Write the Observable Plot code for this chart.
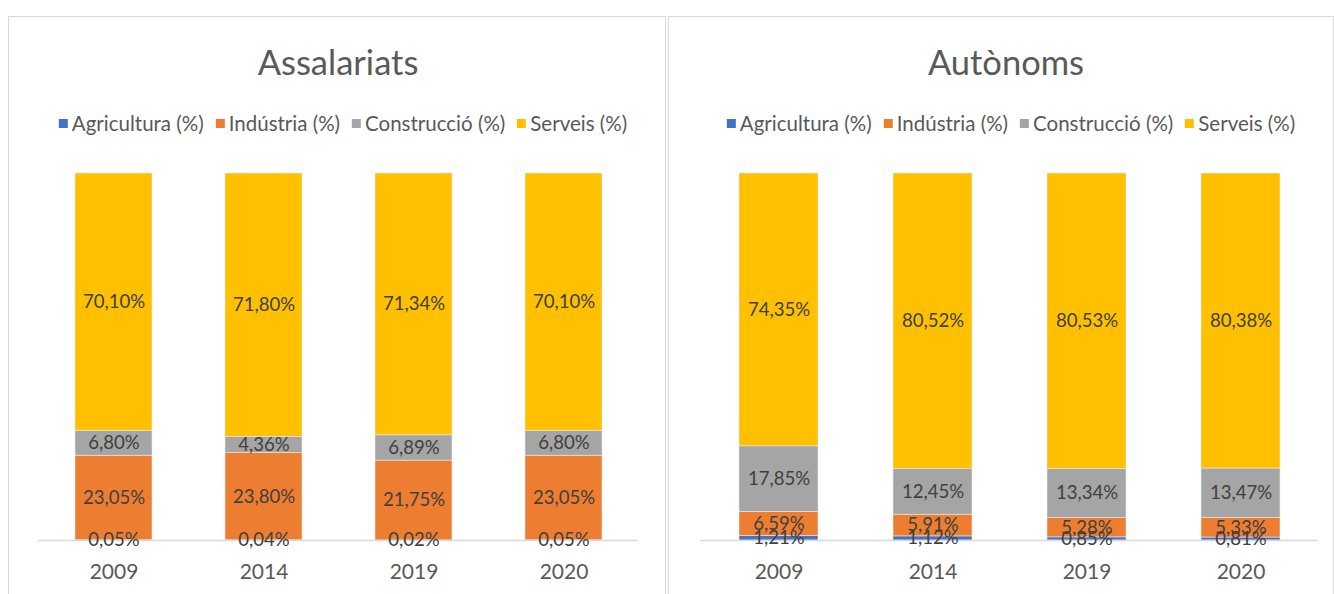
<!DOCTYPE html>
<html><head><meta charset="utf-8">
<script src="https://cdn.jsdelivr.net/npm/d3@7"></script>
<script src="https://cdn.jsdelivr.net/npm/@observablehq/plot@0.6"></script>
<style>
body{margin:0;background:#fff;font-family:Lato,"Open Sans",sans-serif;}
#wrap{position:relative;width:1334px;height:594px;overflow:hidden;background:#fff}
.panel{position:absolute;top:16px;height:600px;border:1px solid #d9d9d9;box-sizing:border-box}
.title{position:absolute;top:42px;height:40px;line-height:40px;font-size:34.5px;color:#595959;text-align:center;white-space:nowrap;transform:translateX(-50%)}
.legend{position:absolute;top:112px;height:22px;line-height:22px;font-size:20.5px;color:#595959;white-space:nowrap;transform:translateX(-50%);display:flex;gap:12px;align-items:center}
.legend .it{display:flex;align-items:center}
.legend span.sw{display:inline-block;width:9px;height:9px;margin-right:4px}
</style></head>
<body><div id="wrap"></div>
<script>
const years = ["2009", "2014", "2019", "2020"];
const sectors = ["Agricultura (%)", "Indústria (%)", "Construcció (%)", "Serveis (%)"];
const sectorColors = ["#4472C4", "#ED7D31", "#A5A5A5", "#FFC000"];

// Assalariats
const assAgricultura = [0.05, 0.04, 0.02, 0.05];
const assIndustria   = [23.05, 23.80, 21.75, 23.05];
const assConstruccio = [6.80, 4.36, 6.89, 6.80];
const assServeis     = [70.10, 71.80, 71.34, 70.10];

// Autònoms
const autAgricultura = [1.21, 1.12, 0.85, 0.81];
const autIndustria   = [6.59, 5.91, 5.28, 5.33];
const autConstruccio = [17.85, 12.45, 13.34, 13.47];
const autServeis     = [74.35, 80.52, 80.53, 80.38];

function rowsOf(series) {
  const rows = [];
  years.forEach((y, i) => series.forEach((s, k) => rows.push({year: y, sector: sectors[k], value: s[i]})));
  return rows;
}
const fmt = v => v.toFixed(2).replace(".", ",") + "%";

const wrap = document.getElementById("wrap");

function panel({title, series, left, width, titleX, legendX, mL, mR, pad}) {
  const p = document.createElement("div");
  p.className = "panel";
  p.style.left = left + "px";
  p.style.width = width + "px";
  wrap.appendChild(p);

  const t = document.createElement("div");
  t.className = "title";
  t.style.left = titleX + "px";
  t.textContent = title;
  wrap.appendChild(t);

  const lg = document.createElement("div");
  lg.className = "legend";
  lg.style.left = legendX + "px";
  sectors.forEach((s, k) => {
    const it = document.createElement("div");
    it.className = "it";
    it.innerHTML = `<span class="sw" style="background:${sectorColors[k]}"></span>${s}`;
    lg.appendChild(it);
  });
  wrap.appendChild(lg);

  const data = rowsOf(series);
  const chart = Plot.plot({
    width, height: 454,
    marginTop: 33, marginBottom: 54, marginLeft: mL, marginRight: mR,
    style: {fontFamily: "Lato, 'Open Sans', sans-serif", background: "transparent"},
    x: {domain: years, paddingInner: pad, paddingOuter: pad / 2, label: null},
    y: {domain: [0, 100], axis: null},
    color: {domain: sectors, range: sectorColors},
    marks: [
      Plot.barY(data, Plot.stackY({x: "year", y: "value", z: "sector", fill: "sector", stroke: "#e8e8e8", strokeWidth: 0.6})),
      Plot.ruleY([0], {stroke: "#d9d9d9", strokeWidth: 1.5}),
      Plot.text(data, Plot.stackY({x: "year", y: "value", z: "sector", text: d => fmt(d.value), fill: "#404040", fontSize: 18.6})),
      Plot.axisX({tickSize: 0, tickPadding: 24, fontSize: 21, color: "#595959", label: null})
    ]
  });
  chart.style.left = left + "px";
  chart.style.position = "absolute";
  chart.style.top = "140px";
  wrap.appendChild(chart);
}

panel({title: "Assalariats", series: [assAgricultura, assIndustria, assConstruccio, assServeis],
  left: 8, width: 658, titleX: 338, legendX: 343, mL: 30, mR: 28, pad: 0.487});
panel({title: "Autònoms", series: [autAgricultura, autIndustria, autConstruccio, autServeis],
  left: 668, width: 666, titleX: 1006, legendX: 1011, mL: 32, mR: 16, pad: 0.49});
</script>
</body></html>
